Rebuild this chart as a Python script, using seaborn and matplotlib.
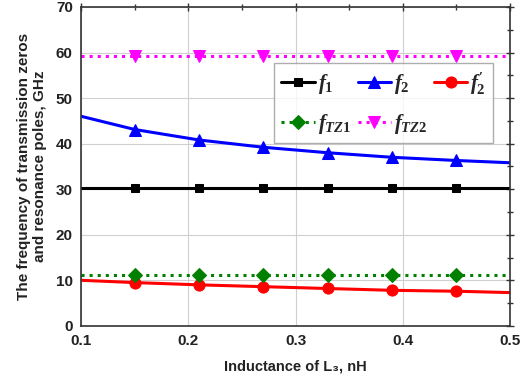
import matplotlib
matplotlib.use("Agg")
import matplotlib.pyplot as plt
import pandas as pd
import seaborn as sns
from matplotlib.ticker import MultipleLocator

# values (curve samples; markers sit on the inner points)
L3 = [0.10, 0.15, 0.21, 0.27, 0.33, 0.39, 0.45, 0.50]
F1 = [30.2, 30.2, 30.2, 30.2, 30.2, 30.2, 30.2, 30.2]
F2 = [46.0, 43.1, 40.8, 39.2, 38.0, 37.0, 36.3, 35.8]
F2P = [10.0, 9.5, 9.0, 8.6, 8.2, 7.8, 7.6, 7.3]
FTZ1 = [11.2, 11.2, 11.2, 11.2, 11.2, 11.2, 11.2, 11.2]
FTZ2 = [59.3, 59.3, 59.3, 59.3, 59.3, 59.3, 59.3, 59.3]

SERIES = [
    ("f1", F1, "black", "-", "s", 6),
    ("f2", F2, "blue", "-", "^", 8),
    ("f2p", F2P, "red", "-", "o", 8),
    ("ftz1", FTZ1, "green", ":", "D", 7),
    ("ftz2", FTZ2, "magenta", ":", "v", 8),
]
LABELS = {
    "f1": r"$f_1$",
    "f2": r"$f_2$",
    "f2p": r"$f_2^{\prime}$",
    "ftz1": r"$f_{TZ1}$",
    "ftz2": r"$f_{TZ2}$",
}

sns.set_theme(style="white")
plt.rcParams["font.family"] = ["Liberation Sans", "DejaVu Sans"]
plt.rcParams["mathtext.fontset"] = "custom"
plt.rcParams["mathtext.it"] = "Liberation Serif:italic:bold"
plt.rcParams["mathtext.rm"] = "Liberation Serif:bold"

df = pd.DataFrame({"L3": L3})
for key, vals, *_ in SERIES:
    df[key] = vals

fig = plt.figure(figsize=(5.2, 3.87), dpi=100)
ax = fig.add_axes([0.156, 0.158, 0.825, 0.824])

handles = {}
for key, vals, color, ls, marker, ms in SERIES:
    sns.lineplot(data=df, x="L3", y=key, color=color, linestyle=ls, linewidth=2.2,
                 marker=marker, markersize=ms, markeredgecolor=color,
                 markevery=list(range(1, 7)), ax=ax)
    handles[key] = ax.lines[-1]

ax.set_xlim(0.1, 0.5)
ax.set_ylim(0, 70)
ax.xaxis.set_major_locator(MultipleLocator(0.1))
ax.xaxis.set_minor_locator(MultipleLocator(0.05))
ax.yaxis.set_major_locator(MultipleLocator(10))
ax.yaxis.set_minor_locator(MultipleLocator(5))
ax.grid(True, which="major", color="#d0d0d0", linewidth=0.8)
ax.set_axisbelow(True)
for side in ax.spines.values():
    side.set_color("#333333")
    side.set_linewidth(1.2)
ax.tick_params(which="both", direction="inout", top=True, right=True,
               labelsize=11, colors="#333333", labelcolor="#222222", pad=3)
ax.tick_params(which="major", length=6, width=1)
ax.tick_params(which="minor", length=4, width=1)
for lab in ax.get_xticklabels() + ax.get_yticklabels():
    lab.set_fontweight("bold")

ax.set_xlabel("Inductance of L₃, nH", fontsize=10.5, fontweight="bold", color="#222222", labelpad=8)
ax.set_ylabel("The frequency of transmission zeros\nand resonance poles, GHz",
              fontsize=11, fontweight="bold", color="#222222", labelpad=6)

order = ["f1", "ftz1", "f2", "ftz2", "f2p"]
leg = ax.legend([handles[k] for k in order], [LABELS[k] for k in order], ncol=3,
                loc="upper left", bbox_to_anchor=(0.45, 0.825), fontsize=15,
                frameon=True, fancybox=False, edgecolor="#999999",
                handlelength=1.6, handletextpad=0.15, columnspacing=0.3,
                labelspacing=0.75, borderpad=0.35, borderaxespad=0)
leg.get_frame().set_linewidth(1.0)

fig.savefig("out.png", dpi=100)
